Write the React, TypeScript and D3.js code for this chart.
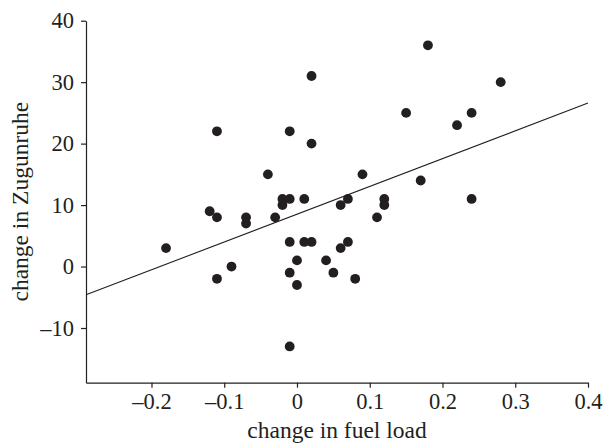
import { useEffect, useRef } from "react";
import * as d3 from "d3";

// data
const fuelChange = [
	-0.18, -0.12, -0.11, -0.11, -0.11, -0.09, -0.07, -0.07, -0.04, -0.03, -0.02,
	-0.02, -0.01, -0.01, -0.01, -0.01, -0.01, 0.0, 0.0, 0.01, 0.01, 0.02, 0.02,
	0.02, 0.04, 0.05, 0.06, 0.06, 0.07, 0.07, 0.08, 0.09, 0.11, 0.12, 0.12, 0.15,
	0.17, 0.18, 0.22, 0.24, 0.24, 0.28,
];
const zugunruheChange = [
	3, 9, 8, 22, -2, 0, 8, 7, 15, 8, 11, 10, 11, 22, 4, -1, -13, 1, -3, 11, 4, 4,
	20, 31, 1, -1, 3, 10, 11, 4, -2, 15, 8, 11, 10, 25, 14, 36, 23, 25, 11, 30,
];

// fitted regression line end points
const fitX = [-0.29, 0.4];
const fitY = [-4.6, 26.6];

const xTicks = [-0.2, -0.1, 0, 0.1, 0.2, 0.3, 0.4];
const xTickLabels = ["\u20130.2", "\u20130.1", "0", "0.1", "0.2", "0.3", "0.4"];
const yTicks = [-10, 0, 10, 20, 30, 40];
const yTickLabels = ["\u201310", "0", "10", "20", "30", "40"];

const W = 603;
const H = 443;
const ink = "#231f20";
const font = "'Liberation Serif', 'Times New Roman', serif";

function App() {
	const ref = useRef<SVGSVGElement>(null);

	useEffect(() => {
		const svg = d3.select(ref.current);
		svg.selectAll("*").remove();

		const x = d3.scaleLinear().domain([-0.29, 0.4]).range([86, 588]);
		const y = d3.scaleLinear().domain([-18.9, 40]).range([382.7, 20.7]);

		// x axis
		const xAxis = svg
			.append("g")
			.attr("transform", `translate(0,${y(-18.9)})`)
			.call(
				d3
					.axisBottom(x)
					.tickValues(xTicks)
					.tickSize(5)
					.tickSizeOuter(0)
					.tickPadding(5)
					.tickFormat((_, i) => xTickLabels[i]),
			);

		// y axis
		const yAxis = svg
			.append("g")
			.attr("transform", `translate(${x(-0.29)},0)`)
			.call(
				d3
					.axisLeft(y)
					.tickValues(yTicks)
					.tickSize(5)
					.tickSizeOuter(0)
					.tickPadding(7)
					.tickFormat((_, i) => yTickLabels[i]),
			);

		[xAxis, yAxis].forEach((g) => {
			g.select(".domain").attr("stroke", ink).attr("stroke-width", 1.2);
			g.selectAll(".tick line").attr("stroke", ink).attr("stroke-width", 1.2);
			g.selectAll(".tick text")
				.attr("fill", ink)
				.style("font-family", font)
				.style("font-size", "22.5px");
		});

		// regression line
		svg
			.append("line")
			.attr("x1", x(fitX[0]))
			.attr("y1", y(fitY[0]))
			.attr("x2", x(fitX[1]))
			.attr("y2", y(fitY[1]))
			.attr("stroke", ink)
			.attr("stroke-width", 1.1);

		// points
		svg
			.selectAll("circle.pt")
			.data(fuelChange)
			.enter()
			.append("circle")
			.attr("class", "pt")
			.attr("cx", (d) => x(d))
			.attr("cy", (_, i) => y(zugunruheChange[i]))
			.attr("r", 4.9)
			.attr("fill", ink);

		// axis titles
		svg
			.append("text")
			.attr("x", (x(-0.29) + x(0.4)) / 2)
			.attr("y", 438)
			.attr("text-anchor", "middle")
			.attr("fill", ink)
			.style("font-family", font)
			.style("font-size", "23.5px")
			.text("change in fuel load");

		svg
			.append("text")
			.attr("transform", `translate(28,${(y(-18.9) + y(40)) / 2}) rotate(-90)`)
			.attr("text-anchor", "middle")
			.attr("fill", ink)
			.style("font-family", font)
			.style("font-size", "23.5px")
			.text("change in Zugunruhe");
	}, []);

	return (
		<svg
			ref={ref}
			width={W}
			height={H}
			style={{ position: "absolute", left: 0, top: 0, background: "#fff" }}
		/>
	);
}

export default App;
